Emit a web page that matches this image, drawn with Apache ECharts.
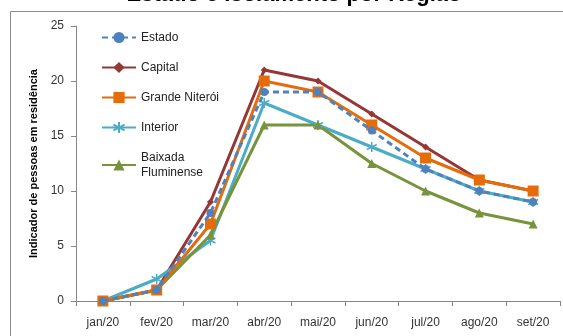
<!DOCTYPE html>
<html>
<head>
<meta charset="utf-8">
<script src="https://cdn.jsdelivr.net/npm/echarts@6/dist/echarts.min.js"></script>
<style>
html,body{margin:0;padding:0;background:#fff;}
#c{width:563px;height:336px;}
</style>
</head>
<body>
<div id="c"></div>
<script>
var categories = ['jan/20','fev/20','mar/20','abr/20','mai/20','jun/20','jul/20','ago/20','set/20'];
var estado = [0, 1, 8, 19, 19, 15.5, 12, 10, 9];
var capital = [0, 1, 9, 21, 20, 17, 14, 11, 10];
var grandeNiteroi = [0, 1, 7, 20, 19, 16, 13, 11, 10];
var interior = [0, 2, 5.5, 18, 16, 14, 12, 10, 9];
var baixada = [0, 1, 6, 16, 16, 12.5, 10, 8, 7];
var yTicks = [0, 5, 10, 15, 20, 25];

var font = 'Liberation Sans';
var asterisk = 'path://M0,-10L0,10M-8.66,-5L8.66,5M-8.66,5L8.66,-5';

var chart = echarts.init(document.getElementById('c'), null, {renderer:'canvas'});
chart.setOption({
  animation: false,
  backgroundColor: '#fff',
  textStyle: {fontFamily: font},
  graphic: [
    {type:'polyline', shape:{points:[[10.5,400],[10.5,11.5],[700,11.5]]}, style:{fill:'none', stroke:'#8c8c8c', lineWidth:1}, silent:true, z:-1},
    {type:'text', x:294, y:6, style:{text:'Estado e Isolamento por Região', font:'bold 22px "Liberation Sans"', fill:'#000', textAlign:'center', textVerticalAlign:'bottom'}}
  ],
  grid: {left:76, right:3, top:26, bottom:35},
  legend: {
    orient:'vertical', left:101, top:30, padding:0, itemWidth:34, itemHeight:14, itemGap:15,
    textStyle:{fontSize:12, color:'#222', fontFamily:font, lineHeight:15},
    data:['Estado','Capital','Grande Niterói','Interior','Baixada\nFluminense']
  },
  xAxis: {
    type:'category', data:categories, boundaryGap:true,
    axisLine:{lineStyle:{color:'#868686', width:1}},
    axisTick:{show:true, alignWithLabel:false, length:5, lineStyle:{color:'#868686'}},
    axisLabel:{color:'#333', fontSize:12, margin:16, fontFamily:font},
    splitLine:{show:false}
  },
  yAxis: {
    type:'value', min:yTicks[0], max:yTicks[yTicks.length-1], interval:5,
    name:'Indicador de pessoas em residência', nameLocation:'middle', nameGap:37,
    nameTextStyle:{fontWeight:'bold', fontSize:11, color:'#000', fontFamily:font},
    axisLine:{show:true, lineStyle:{color:'#868686', width:1}},
    axisTick:{show:true, length:5, lineStyle:{color:'#868686'}},
    axisLabel:{color:'#333', fontSize:12, margin:12, fontFamily:font},
    splitLine:{show:false}
  },
  series: [
    {name:'Estado', type:'line', data:estado, symbol:'circle', symbolSize:8,
     lineStyle:{color:'#4F81BD', width:3, type:[6,4]}, itemStyle:{color:'#4F81BD'}, z:5},
    {name:'Capital', type:'line', data:capital, symbol:'diamond', symbolSize:7,
     lineStyle:{color:'#953735', width:3}, itemStyle:{color:'#953735'}, z:2},
    {name:'Grande Niterói', type:'line', data:grandeNiteroi, symbol:'rect', symbolSize:11,
     lineStyle:{color:'#E46C0A', width:3}, itemStyle:{color:'#E46C0A'}, z:4},
    {name:'Interior', type:'line', data:interior, symbol:asterisk, symbolSize:10,
     lineStyle:{color:'#4BACC6', width:3}, itemStyle:{color:'#4BACC6', borderColor:'#4BACC6', borderWidth:1.5}, z:3},
    {name:'Baixada\nFluminense', type:'line', data:baixada, symbol:'triangle', symbolSize:9,
     lineStyle:{color:'#77933C', width:3}, itemStyle:{color:'#77933C'}, z:3}
  ]
});
</script>
</body>
</html>
